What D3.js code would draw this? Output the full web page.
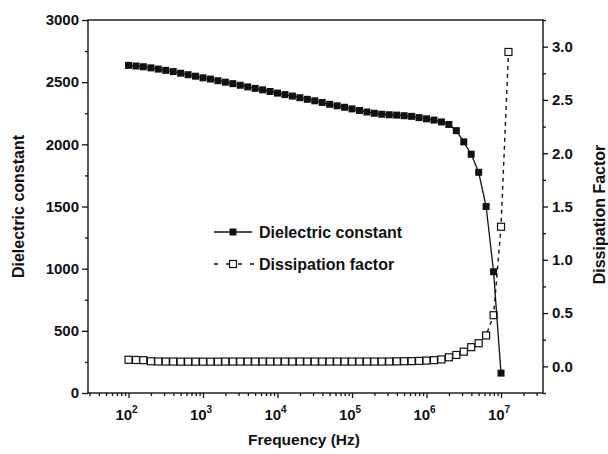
<!DOCTYPE html>
<html><head><meta charset="utf-8">
<script src="https://cdn.jsdelivr.net/npm/d3@7/dist/d3.min.js"></script>
<style>
html,body{margin:0;padding:0;background:#fff;}
svg{display:block;font-family:"Liberation Sans",Arial,sans-serif;}
</style></head>
<body><svg id="chart" width="608" height="454"></svg>
<script>
// ---- data ----
const frequencies = [
  100,126,158,200,251,316,398,501,631,794,
  1000,1259,1585,1995,2512,3162,3981,5012,6310,7943,
  10000,12589,15849,19953,25119,31623,39811,50119,63096,79433,
  100000,125893,158489,199526,251189,316228,398107,501187,630957,794328,
  1000000,1258925,1584893,1995262,2511886,3162278,3981072,5011872,6309573,7943282,
  10000000,12589254
];
const dielectricConstant = [
  2635,2630,2624,2615,2605,2595,2585,2572,2560,2548,
  2535,2525,2512,2500,2488,2475,2462,2450,2438,2425,
  2412,2400,2388,2375,2362,2350,2337,2322,2310,2298,
  2285,2272,2260,2250,2242,2238,2235,2230,2225,2215,
  2205,2195,2180,2160,2110,2020,1920,1775,1500,975,
  160
];
const dissipationFactor = [
  0.062,0.060,0.058,0.048,0.046,0.045,0.045,0.044,0.044,0.044,
  0.044,0.044,0.044,0.045,0.045,0.045,0.045,0.045,0.045,0.045,
  0.045,0.045,0.045,0.045,0.045,0.045,0.045,0.045,0.045,0.045,
  0.045,0.045,0.045,0.045,0.045,0.046,0.047,0.048,0.049,0.051,
  0.054,0.058,0.065,0.085,0.107,0.138,0.180,0.217,0.290,0.480,
  1.310,2.950
];
const xTickExponents = [2,3,4,5,6,7];
const leftTicks = [0,500,1000,1500,2000,2500,3000];
const rightTicks = [0.0,0.5,1.0,1.5,2.0,2.5,3.0];
const seriesNames = ["Dielectric constant","Dissipation factor"];

// ---- layout ----
const L = 88, R = 543, T = 20, B = 393;
const svg = d3.select("#chart");
const font = "'Liberation Sans',Arial,sans-serif";
const tickFS = 15, titleFS = 16;

const x = d3.scaleLog().domain([28.6, 3.66e7]).range([L, R]);
const yL = d3.scaleLinear().domain([0, 3000]).range([B, T]);
const yR = d3.scaleLinear().domain([-0.25, 3.25]).range([B, T]);

// frame
svg.append("rect").attr("x", L).attr("y", T).attr("width", R - L).attr("height", B - T)
  .attr("fill", "none").attr("stroke", "#111").attr("stroke-width", 1.4);

// bottom axis minor ticks
const minorX = [];
for (let e = 1; e <= 7; e++) for (let m = 2; m <= 9; m++) {
  const v = m * Math.pow(10, e);
  if (v >= x.domain()[0] && v <= x.domain()[1]) minorX.push(v);
}
const gx = svg.append("g").attr("transform", `translate(0,${B})`);
gx.call(d3.axisBottom(x).tickValues(minorX).tickSize(3).tickFormat(""));
const gxMaj = svg.append("g").attr("transform", `translate(0,${B})`);
gxMaj.call(d3.axisBottom(x).tickValues(xTickExponents.map(e => Math.pow(10, e))).tickSize(5).tickFormat(""));
[gx, gxMaj].forEach(g => { g.select(".domain").remove(); g.selectAll("line").attr("stroke", "#111").attr("stroke-width", 1.3); });
// x labels with superscripts
xTickExponents.forEach(e => {
  const t = svg.append("text").attr("x", x(Math.pow(10, e)) - 2).attr("y", 420)
    .attr("text-anchor", "middle").attr("font-size", tickFS).attr("font-weight", "bold").attr("fill", "#111");
  t.append("tspan").text("10");
  t.append("tspan").attr("dy", -7).attr("font-size", 10).text(String(e));
});

// left axis
const gl = svg.append("g").attr("transform", `translate(${L},0)`);
gl.call(d3.axisLeft(yL).tickValues(leftTicks).tickSize(6).tickPadding(3).tickFormat(d3.format("d")));
const glm = svg.append("g").attr("transform", `translate(${L},0)`);
glm.call(d3.axisLeft(yL).tickValues(d3.range(250, 3000, 500)).tickSize(3).tickFormat(""));
[gl, glm].forEach(g => { g.select(".domain").remove(); g.selectAll("line").attr("stroke", "#111").attr("stroke-width", 1.3); });
gl.selectAll("text").attr("font-size", tickFS).attr("font-weight", "bold").attr("font-family", font).attr("fill", "#111");

// right axis
const gr = svg.append("g").attr("transform", `translate(${R},0)`);
gr.call(d3.axisRight(yR).tickValues(rightTicks).tickSize(5).tickPadding(4).tickFormat(d3.format(".1f")));
const grm = svg.append("g").attr("transform", `translate(${R},0)`);
grm.call(d3.axisRight(yR).tickValues([-0.25,0.25,0.75,1.25,1.75,2.25,2.75,3.25]).tickSize(3).tickFormat(""));
[gr, grm].forEach(g => { g.select(".domain").remove(); g.selectAll("line").attr("stroke", "#111").attr("stroke-width", 1.3); });
gr.selectAll("text").attr("font-size", tickFS).attr("font-weight", "bold").attr("font-family", font).attr("fill", "#111");

// axis titles
svg.append("text").attr("transform", `translate(24,${(T + B) / 2}) rotate(-90)`)
  .attr("text-anchor", "middle").attr("font-size", titleFS).attr("font-weight", "bold").attr("fill", "#111")
  .text("Dielectric constant");
svg.append("text").attr("transform", `translate(605,${(T + B) / 2 + 8}) rotate(-90)`)
  .attr("text-anchor", "middle").attr("font-size", titleFS).attr("font-weight", "bold").attr("fill", "#111")
  .text("Dissipation Factor");
svg.append("text").attr("x", 304).attr("y", 445)
  .attr("text-anchor", "middle").attr("font-size", 15.5).attr("font-weight", "bold").attr("fill", "#111")
  .text("Frequency (Hz)");

// series
const dcData = dielectricConstant.map((v, i) => ({ f: frequencies[i], v }));
const dfData = dissipationFactor.map((v, i) => ({ f: frequencies[i], v }));
const ms = 7;

svg.append("path").datum(dfData)
  .attr("d", d3.line().x(d => x(d.f)).y(d => yR(d.v)))
  .attr("fill", "none").attr("stroke", "#111").attr("stroke-width", 1.4).attr("stroke-dasharray", "4,4");
svg.append("g").selectAll("rect").data(dfData).join("rect")
  .attr("x", d => x(d.f) - ms / 2).attr("y", d => yR(d.v) - ms / 2)
  .attr("width", ms).attr("height", ms)
  .attr("fill", "#fff").attr("stroke", "#111").attr("stroke-width", 1.2);

svg.append("path").datum(dcData)
  .attr("d", d3.line().x(d => x(d.f)).y(d => yL(d.v)))
  .attr("fill", "none").attr("stroke", "#111").attr("stroke-width", 1.3);
svg.append("g").selectAll("rect").data(dcData).join("rect")
  .attr("x", d => x(d.f) - ms / 2).attr("y", d => yL(d.v) - ms / 2)
  .attr("width", ms).attr("height", ms).attr("fill", "#111");

// legend
const legY = [232, 264];
svg.append("line").attr("x1", 214).attr("x2", 252).attr("y1", legY[0]).attr("y2", legY[0])
  .attr("stroke", "#111").attr("stroke-width", 1.4);
svg.append("rect").attr("x", 233 - ms / 2).attr("y", legY[0] - ms / 2).attr("width", ms).attr("height", ms).attr("fill", "#111");
svg.append("line").attr("x1", 214).attr("x2", 254).attr("y1", legY[1]).attr("y2", legY[1])
  .attr("stroke", "#111").attr("stroke-width", 1.4).attr("stroke-dasharray", "4,8");
svg.append("rect").attr("x", 233 - ms / 2).attr("y", legY[1] - ms / 2).attr("width", ms).attr("height", ms)
  .attr("fill", "#fff").attr("stroke", "#111").attr("stroke-width", 1.2);
seriesNames.forEach((n, i) => {
  svg.append("text").attr("x", 259).attr("y", legY[i] + 6).attr("font-size", titleFS).attr("font-weight", "bold")
    .attr("fill", "#111").text(n);
});
</script></body></html>
